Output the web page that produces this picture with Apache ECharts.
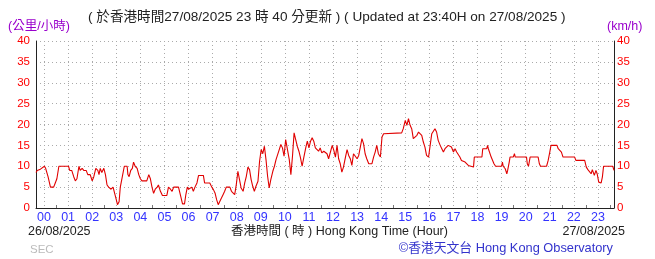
<!DOCTYPE html>
<html><head><meta charset="utf-8">
<script src="https://cdn.jsdelivr.net/npm/echarts@6/dist/echarts.min.js"></script>
<style>html,body{margin:0;padding:0;background:#fff}#c{width:655px;height:259px}</style>
</head><body><div id="c"></div>
<script>
// minutes from 00:00 (hour axis), wind speed km/h
const minutes = [
-20,-17,-9,-5,1,4,10,16,24,28,32,37,61,64,69,74,78,82,87,90,95,99,105,109,115,120,124,129,134,137,140,144,149,153,157,161,167,172,176,180,183,187,190,194,200,207,209,212,216,220,223,227,232,236,240,244,256,261,265,269,273,277,282,285,290,295,306,310,315,319,323,335,340,345,350,353,357,
360,368,372,376,381,385,397,400,413,418,422,426,430,434,438,442,446,450,454,463,467,471,475,479,483,487,491,496,500,504,508,512,516,520,524,528,533,537,541,545,549,553,557,561,565,570,574,578,582,586,590,594,598,602,606,611,615,619,623,627,631,635,639,643,647,652,656,660,664,668,672,676,680,684,688,692,
697,701,705,709,713,718,722,726,730,734,738,742,746,751,755,759,763,767,771,775,780,784,788,792,796,800,804,809,813,817,821,825,829,833,838,842,846,850,891,895,900,904,908,912,916,920,924,929,933,937,941,945,949,953,958,962,966,970,974,978,982,987,991,995,999,1003,1007,1011,1015,1020,1024,1028,1032,1036,1040,1044,1049,1053,1057,1061,
1070,1072,1091,1093,1103,1105,1107,1111,1114,1118,1121,1125,1140,1142,1144,1149,1153,1155,1159,1161,1169,1172,1174,1202,1204,1207,1211,1231,1234,1237,1252,1256,1260,1263,1278,1281,1285,1289,1293,1322,1325,1347,1351,1355,1359,1363,1366,1369,1371,1375,1378,1382,1388,1391,1394,1417,1420
];
const speeds = [
8.5,9,9.3,9.5,10,9.5,7.5,5,5,6,7,10,10,9,9,7.5,6.5,7,10,9,9.5,9,9,8,8,6.5,7.5,9.5,9,8,9.5,8.5,9.5,8,5.5,5,4.5,5,3.5,2,0.8,1.5,5,7,10,10,8,7.5,9,9.5,11,10,9.5,8,7,6.5,6.5,8,7,5,3.5,4.5,5,5.5,4,3,3,5,4.5,4,5,5,3,1,1,3,5,
4.5,5,4,5,6,7.8,7.8,6,6,5,4.4,3.6,2,0.8,1,2.4,3.2,4,5,5,4,3.6,3.2,5.6,8.8,6.8,4.8,4,6,7.6,9.8,9.2,6.8,5.2,4,5.2,6.4,11.2,14,13,14.8,11.6,7.6,4.8,6.8,8.8,10,11.6,12.8,14,15.2,14.4,12.4,16.4,16.8,11.6,8,12.4,18,16.4,14.8,13.6,12,10,12,14.4,16,14.4,16,16.8,16,14.4,14.8,13.6,14.4,13.2,
13.6,14,13,11.8,11.8,15,13.8,12.2,15,11.8,10.6,8.6,9.8,12.2,14,12.6,11.8,10.2,13,13.4,11.8,12.6,14.6,16.6,15.4,13,11.8,10.6,10.2,10.6,12.2,13.4,15,13,12.2,17,17.8,18,18,19,21,19.8,21.4,19.8,19,16.6,16.2,17.4,18.2,17.8,17.4,15.8,14.6,12.6,12.2,15,17.8,18.2,19,18.2,16.2,15,14.2,13.4,14.2,14.2,15,15,14.6,13.4,14.2,13.4,13.8,12.2,11.4,11.4,11,10.6,10.2,10,
9.8,12.2,12.2,14.2,14.2,15,14.2,14.2,12.2,11.8,10.6,10,10,11,10,9.4,8.2,9,11,12.2,12.2,13,12.2,12.2,10.6,10,12.2,12.2,10.6,10,10,11.4,13.4,15,15,14.2,13.8,13.4,12.2,12.2,11.4,11.4,9.8,9.2,9,8.2,9.2,9.2,7.8,9,8.2,6.2,6,7.4,10,10,9
];
const hourLabels = ['00','01','02','03','04','05','06','07','08','09','10','11','12','13','14','15','16','17','18','19','20','21','22','23'];
const titleText = '( 於香港時間27/08/2025 23 時 40 分更新 ) ( Updated at 23:40H on 27/08/2025 )';
const unitLeft = '(公里/小時)';
const unitRight = '(km/h)';
const dateLeft = '26/08/2025';
const dateRight = '27/08/2025';
const axisName = '香港時間 ( 時 ) Hong Kong Time (Hour)';
const sourceText = '©香港天文台 Hong Kong Observatory';
const codeText = 'SEC';

const hourTicks = hourLabels.map(function(l){ return Number(l) * 60; });
const halfTicks = hourTicks.map(function(v){ return v + 30; });
const data = minutes.map(function(m, i){ return [m, speeds[i]]; });
const FONT = "'Liberation Sans', 'Noto Sans CJK TC', sans-serif";
const GRID = {color: '#aaaaaa', width: 1, type: [1, 3]};

const chart = echarts.init(document.getElementById('c'), null, {renderer: 'canvas'});
chart.setOption({
  animation: false,
  backgroundColor: '#fff',
  grid: {left: 36, right: 41, top: 41, bottom: 51, containLabel: false},
  xAxis: [{
    type: 'value', min: -20, max: 1420,
    axisLine: {show: true, onZero: false, lineStyle: {color: '#222', width: 1}},
    axisTick: {show: false, customValues: hourTicks},
    axisLabel: {customValues: hourTicks, color: '#3333ff', fontSize: 12.5, fontFamily: FONT, margin: 3,
      formatter: function(v){ return hourLabels[Math.round(v/60)]; }},
    splitLine: {show: true, lineStyle: GRID}
  }, {
    type: 'value', min: -20, max: 1420, position: 'bottom',
    axisLine: {show: false, onZero: false},
    axisTick: {show: true, inside: true, length: 3, customValues: halfTicks, lineStyle: {color: '#777'}},
    axisLabel: {show: false},
    splitLine: {show: false}
  }],
  yAxis: [{
    type: 'value', min: 0, max: 40, interval: 5, position: 'left',
    axisLine: {show: true, onZero: false, lineStyle: {color: '#222', width: 1}},
    axisTick: {show: false},
    axisLabel: {color: '#ff0000', fontSize: 11.5, fontFamily: "'Liberation Sans Narrow', " + FONT, margin: 6},
    splitLine: {show: true, lineStyle: GRID}
  }, {
    type: 'value', min: 0, max: 40, interval: 5, position: 'right',
    axisLine: {show: true, onZero: false, lineStyle: {color: '#222', width: 1}},
    axisTick: {show: false},
    axisLabel: {color: '#ff0000', fontSize: 11.5, fontFamily: "'Liberation Sans Narrow', " + FONT, margin: 3},
    splitLine: {show: false}
  }],
  series: [{
    type: 'line', xAxisIndex: 0, yAxisIndex: 0, data: data,
    showSymbol: false, symbol: 'none',
    lineStyle: {color: '#e00000', width: 1.1}
  }],
  graphic: [
    {type: 'text', left: 88, top: 10, style: {text: titleText, fill: '#222', font: '13.6px ' + FONT}},
    {type: 'text', left: 8, top: 20, style: {text: unitLeft, fill: '#9900cc', font: '12.5px ' + FONT}},
    {type: 'text', left: 607, top: 20, style: {text: unitRight, fill: '#9900cc', font: '12.5px ' + FONT}},
    {type: 'text', left: 28, top: 225, style: {text: dateLeft, fill: '#222', font: '12.5px ' + FONT}},
    {type: 'text', left: 231, top: 225, style: {text: axisName, fill: '#222', font: '12.5px ' + FONT}},
    {type: 'text', right: 30, top: 225, style: {text: dateRight, fill: '#222', font: '12.5px ' + FONT}},
    {type: 'text', left: 30, top: 244, style: {text: codeText, fill: '#bbbbbb', font: '11.5px ' + FONT}},
    {type: 'text', right: 42, top: 242, style: {text: sourceText, fill: '#3333cc', font: '12.8px ' + FONT}}
  ]
});
</script></body></html>
